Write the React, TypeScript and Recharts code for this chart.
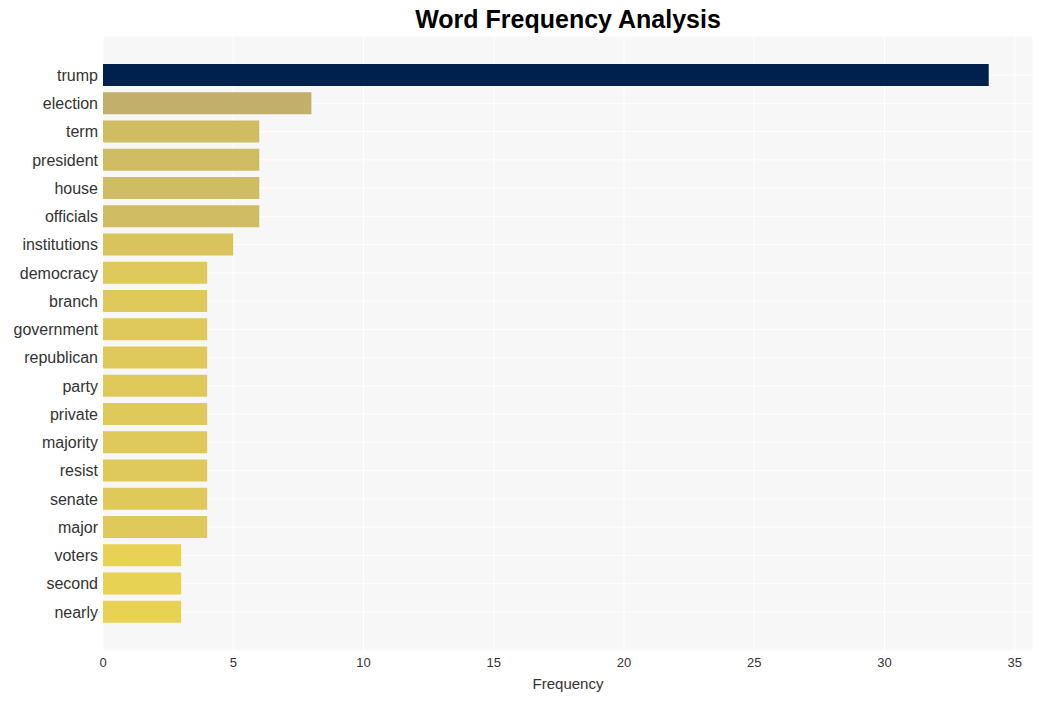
import { Bar, BarChart, CartesianGrid, Cell, XAxis, YAxis } from "recharts"

const words = [
  "trump",
  "election",
  "term",
  "president",
  "house",
  "officials",
  "institutions",
  "democracy",
  "branch",
  "government",
  "republican",
  "party",
  "private",
  "majority",
  "resist",
  "senate",
  "major",
  "voters",
  "second",
  "nearly",
]

const counts = [34, 8, 6, 6, 6, 6, 5, 4, 4, 4, 4, 4, 4, 4, 4, 4, 4, 3, 3, 3]

const xTicks = [0, 5, 10, 15, 20, 25, 30, 35]

// colour by count (cividis-like ramp)
const countColors: Record<number, string> = {
  34: "#00204d",
  8: "#c2af6c",
  6: "#cfbc63",
  5: "#d8c35c",
  4: "#dfc95a",
  3: "#e8d253",
}

const data = words.map((word, i) => ({ word, count: counts[i] }))

const font = "'Liberation Sans', Arial, sans-serif"

export default function App() {
  return (
    <div
      style={{
        position: "absolute",
        left: 0,
        top: 0,
        width: 1042,
        height: 701,
        background: "#fff",
        fontFamily: font,
      }}
    >
      <div
        style={{
          position: "absolute",
          left: 103,
          width: 930,
          top: 5,
          textAlign: "center",
          fontSize: 25,
          fontWeight: "bold",
          color: "#000",
        }}
      >
        Word Frequency Analysis
      </div>
      <BarChart
        width={1042}
        height={701}
        data={data}
        layout="vertical"
        margin={{ top: 36, right: 9, bottom: 0, left: 0 }}
        style={{ position: "absolute", left: 0, top: 0 }}
      >
        <CartesianGrid fill="#f7f7f7" fillOpacity={1} stroke="#ffffff" strokeWidth={1} />
        <XAxis
          type="number"
          domain={[0, 35.7]}
          ticks={xTicks}
          tickLine={false}
          axisLine={false}
          tickSize={0}
          tickMargin={7}
          height={50}
          tick={{ fontSize: 13, fill: "#333", fontFamily: font }}
          label={{
            value: "Frequency",
            position: "insideBottom",
            offset: 12,
            style: { fontSize: 15, fill: "#333", fontFamily: font },
          }}
        />
        <YAxis
          type="category"
          dataKey="word"
          width={103}
          tickLine={false}
          axisLine={false}
          tickSize={0}
          tickMargin={5}
          padding={{ top: 25, bottom: 25 }}
          interval={0}
          tick={{ fontSize: 16, fill: "#333", fontFamily: font }}
        />
        <Bar dataKey="count" barSize={22} isAnimationActive={false}>
          {data.map((d) => (
            <Cell key={d.word} fill={countColors[d.count]} />
          ))}
        </Bar>
      </BarChart>
    </div>
  )
}
